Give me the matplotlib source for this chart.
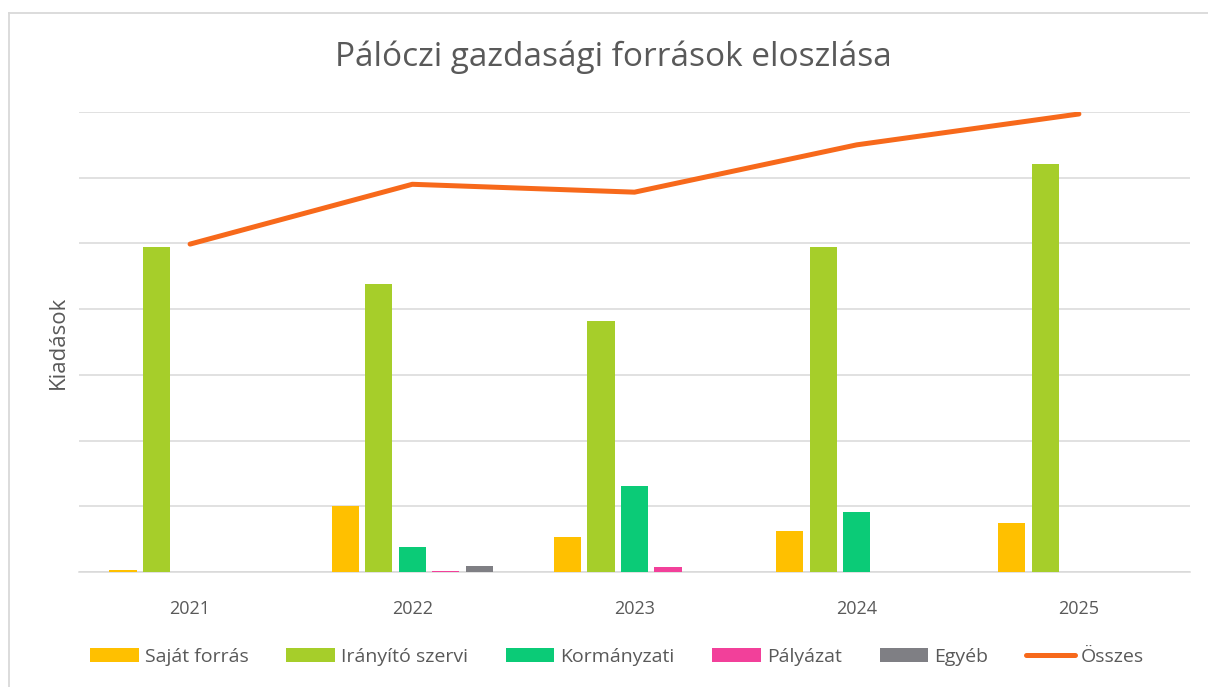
import matplotlib
matplotlib.use("Agg")
import matplotlib.pyplot as plt
import numpy as np
from matplotlib.lines import Line2D

plt.rcParams['font.family'] = ['Open Sans', 'DejaVu Sans']

years = ["2021", "2022", "2023", "2024", "2025"]
sajat = [0.03, 1.01, 0.54, 0.62, 0.74]
iranyito = [4.94, 4.38, 3.82, 4.94, 6.21]
kormanyzati = [0.0, 0.38, 1.31, 0.92, 0.0]
palyazat = [0.0, 0.01, 0.076, 0.0, 0.0]
egyeb = [0.0, 0.09, 0.0, 0.0, 0.0]
osszes = [4.99, 5.90, 5.78, 6.50, 6.97]

series_names = ["Saját forrás", "Irányító szervi", "Kormányzati", "Pályázat", "Egyéb"]
series_vals = [sajat, iranyito, kormanyzati, palyazat, egyeb]
colors = ["#FFC000", "#A6CE2A", "#0BCB77", "#F2409A", "#7F7F84"]
line_color = "#F7691B"
text_color = "#595959"
grid_color = "#D9D9D9"

fig = plt.figure(figsize=(12.08, 6.87), dpi=100)
ax = fig.add_axes([79/1208, 1-572/687, (1190-79)/1208, (572-112)/687])

x = np.arange(len(years))
step = 0.151
width = 0.122
bar_handles = []
for i, (name, vals, c) in enumerate(zip(series_names, series_vals, colors)):
    b = ax.bar(x + (i-2)*step, vals, width=width, color=c, label=name, zorder=3)
    bar_handles.append(b)

line, = ax.plot(x, osszes, color=line_color, lw=3.6, solid_capstyle='round',
                solid_joinstyle='round', label="Összes", zorder=4)

ax.set_xlim(-0.5, 4.5)
ax.set_ylim(0, 7)
ax.set_yticks(np.arange(0, 8, 1))
ax.set_yticklabels([])
ax.tick_params(axis='y', length=0)
ax.set_xticks(x)
ax.set_xticklabels(years, color=text_color, fontsize=13)
ax.tick_params(axis='x', length=0, pad=20)
ax.grid(axis='y', color=grid_color, lw=1.1, zorder=0)
for s in ["top", "right", "left"]:
    ax.spines[s].set_visible(False)
ax.spines["bottom"].set_color(grid_color)
ax.spines["bottom"].set_linewidth(1.1)

ax.set_ylabel("Kiadások", color=text_color, fontsize=16, labelpad=4)

fig.text(613/1208, 1-57/687, "Pálóczi gazdasági források eloszlása",
         ha='center', va='center', fontsize=24, color=text_color)

handles = bar_handles + [line]
labels = series_names + ["Összes"]
fig.legend(handles, labels, loc='center', bbox_to_anchor=(617/1208, 1-657/687),
           ncol=6, frameon=False, fontsize=14, labelcolor=text_color,
           handlelength=2.5, handleheight=0.72, handletextpad=0.3,
           columnspacing=1.95)

# chart border
fig.add_artist(Line2D([8.5/1208, 8.5/1208], [0, 1-12.5/687], transform=fig.transFigure,
                      color=grid_color, lw=1.3))
fig.add_artist(Line2D([8.5/1208, 1], [1-12.5/687, 1-12.5/687], transform=fig.transFigure,
                      color=grid_color, lw=1.3))

fig.savefig("out.png", dpi=100)
